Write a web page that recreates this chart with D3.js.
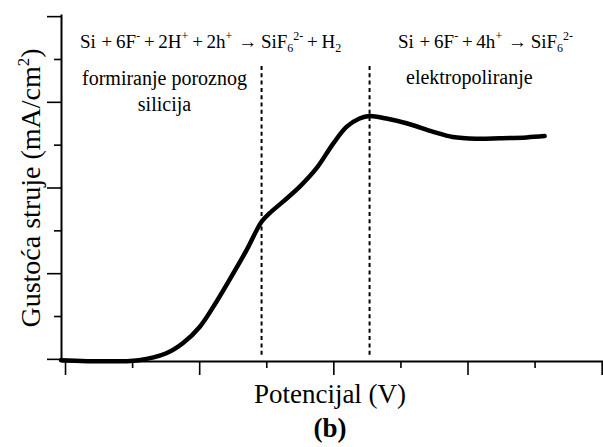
<!DOCTYPE html>
<html>
<head>
<meta charset="utf-8">
<script src="https://cdn.jsdelivr.net/npm/d3@7"></script>
<style>
  body { margin: 0; background: #fff; }
</style>
</head>
<body>
<script>
// curve (arbitrary units, one unit per tick)
const potential = [-0.06, 1.10, 1.51, 1.76, 2.01, 2.26, 2.51, 2.70, 2.93, 3.05, 3.25, 3.50, 3.75, 4.00, 4.20, 4.39, 4.54, 4.79, 5.09, 5.49, 5.78, 6.13, 6.48, 6.88, 7.15];
const current   = [-0.03, -0.03, 0.13, 0.37, 0.75, 1.34, 2.00, 2.52, 3.20, 3.40, 3.67, 4.02, 4.45, 5.03, 5.42, 5.61, 5.67, 5.61, 5.50, 5.30, 5.18, 5.14, 5.15, 5.17, 5.20];

const tickVals = d3.range(0, 9);
const dividers = [2.93, 4.54];

const xLabel = "Potencijal (V)";
const yLabel = "Gustoća struje (mA/cm";
const panelLabel = "(b)";
const regionLeft = ["formiranje poroznog", "silicija"];
const regionRight = "elektropoliranje";

const serif = '"Liberation Serif", "Times New Roman", Times, serif';
const width = 603, height = 447;

const svg = d3.select("body").append("svg")
    .attr("width", width)
    .attr("height", height)
    .attr("font-family", serif);

const x = d3.scaleLinear().domain([-0.06, 8.02]).range([61, 603]);
const y = d3.scaleLinear().domain([-0.05, 8.05]).range([361, 14]);

// Axes: long ticks on even values, short ones in between
function drawAxis(axisFn, scale, transform) {
    const major = svg.append("g").attr("transform", transform)
        .call(axisFn(scale).tickValues(tickVals.filter(d => d % 2 === 0))
            .tickSize(14).tickSizeOuter(0).tickFormat(""));
    const minor = svg.append("g").attr("transform", transform)
        .call(axisFn(scale).tickValues(tickVals.filter(d => d % 2 === 1))
            .tickSize(7).tickSizeOuter(0).tickFormat(""));
    minor.select(".domain").remove();
    major.select(".domain").attr("stroke-width", 2);
    svg.selectAll(".tick line").attr("stroke-width", 1.6);
}
drawAxis(d3.axisBottom, x, `translate(0,${y.range()[0]})`);
drawAxis(d3.axisLeft, y, `translate(${x.range()[0]},0)`);

// dashed dividers
svg.selectAll("line.divider")
    .data(dividers)
    .join("line")
    .attr("class", "divider")
    .attr("x1", d => x(d)).attr("x2", d => x(d))
    .attr("y1", 66).attr("y2", y(0) - 1)
    .attr("stroke", "#000")
    .attr("stroke-width", 2)
    .attr("stroke-dasharray", "4,3.3");

// the curve
const line = d3.line()
    .x(d => x(d[0]))
    .y(d => y(d[1]))
    .curve(d3.curveCatmullRom.alpha(0.5));

svg.append("path")
    .datum(potential.map((p, i) => [p, current[i]]))
    .attr("d", line)
    .attr("fill", "none")
    .attr("stroke", "#000")
    .attr("stroke-width", 4.5)
    .attr("stroke-linecap", "round")
    .attr("stroke-linejoin", "round");

// reaction equations
function equation(xPos, parts) {
    const t = svg.append("text")
        .attr("x", xPos).attr("y", 48)
        .attr("font-size", 19)
        .attr("word-spacing", -1)
        .attr("xml:space", "preserve");
    parts.forEach(p => {
        t.append("tspan")
            .attr("dx", p.dx || 0)
            .attr("dy", p.dy || 0)
            .attr("font-size", p.small ? 12 : null)
            .text(p.s);
    });
}
equation(80, [
    {s: "Si"}, {s: " + 6F", dx: 2}, {s: "-", small: true, dy: -8}, {s: " + 2H", dy: 8},
    {s: "+", small: true, dy: -8}, {s: " + 2h", dy: 8}, {s: "+", small: true, dy: -8},
    {s: " \u2192 SiF", dy: 8, dx: 2}, {s: "6", small: true, dy: 4}, {s: "2-", small: true, dy: -12},
    {s: " + H", dy: 8}, {s: "2", small: true, dy: 4}
]);
equation(398, [
    {s: "Si"}, {s: " + 6F", dx: 2}, {s: "-", small: true, dy: -8}, {s: " + 4h", dy: 8},
    {s: "+", small: true, dy: -8}, {s: " \u2192 SiF", dy: 8, dx: 2},
    {s: "6", small: true, dy: 4}, {s: "2-", small: true, dy: -12}
]);

// region names
svg.selectAll("text.region")
    .data(regionLeft)
    .join("text")
    .attr("class", "region")
    .attr("x", 164.5)
    .attr("y", (d, i) => 85 + i * 25.5)
    .attr("text-anchor", "middle")
    .attr("font-size", 20)
    .text(d => d);

svg.append("text")
    .attr("x", 406).attr("y", 83.5)
    .attr("font-size", 20)
    .text(regionRight);

// axis titles
svg.append("text")
    .attr("x", 330).attr("y", 403)
    .attr("text-anchor", "middle")
    .attr("font-size", 27)
    .text(xLabel);

const yt = svg.append("text")
    .attr("transform", `translate(40,188) rotate(-90)`)
    .attr("text-anchor", "middle")
    .attr("font-size", 28);
yt.append("tspan").text(yLabel);
yt.append("tspan").attr("dy", -11).attr("font-size", 17).text("2");
yt.append("tspan").attr("dy", 11).text(")");

svg.append("text")
    .attr("x", 330).attr("y", 437)
    .attr("text-anchor", "middle")
    .attr("font-size", 27)
    .attr("font-weight", "bold")
    .text(panelLabel);
</script>
</body>
</html>
